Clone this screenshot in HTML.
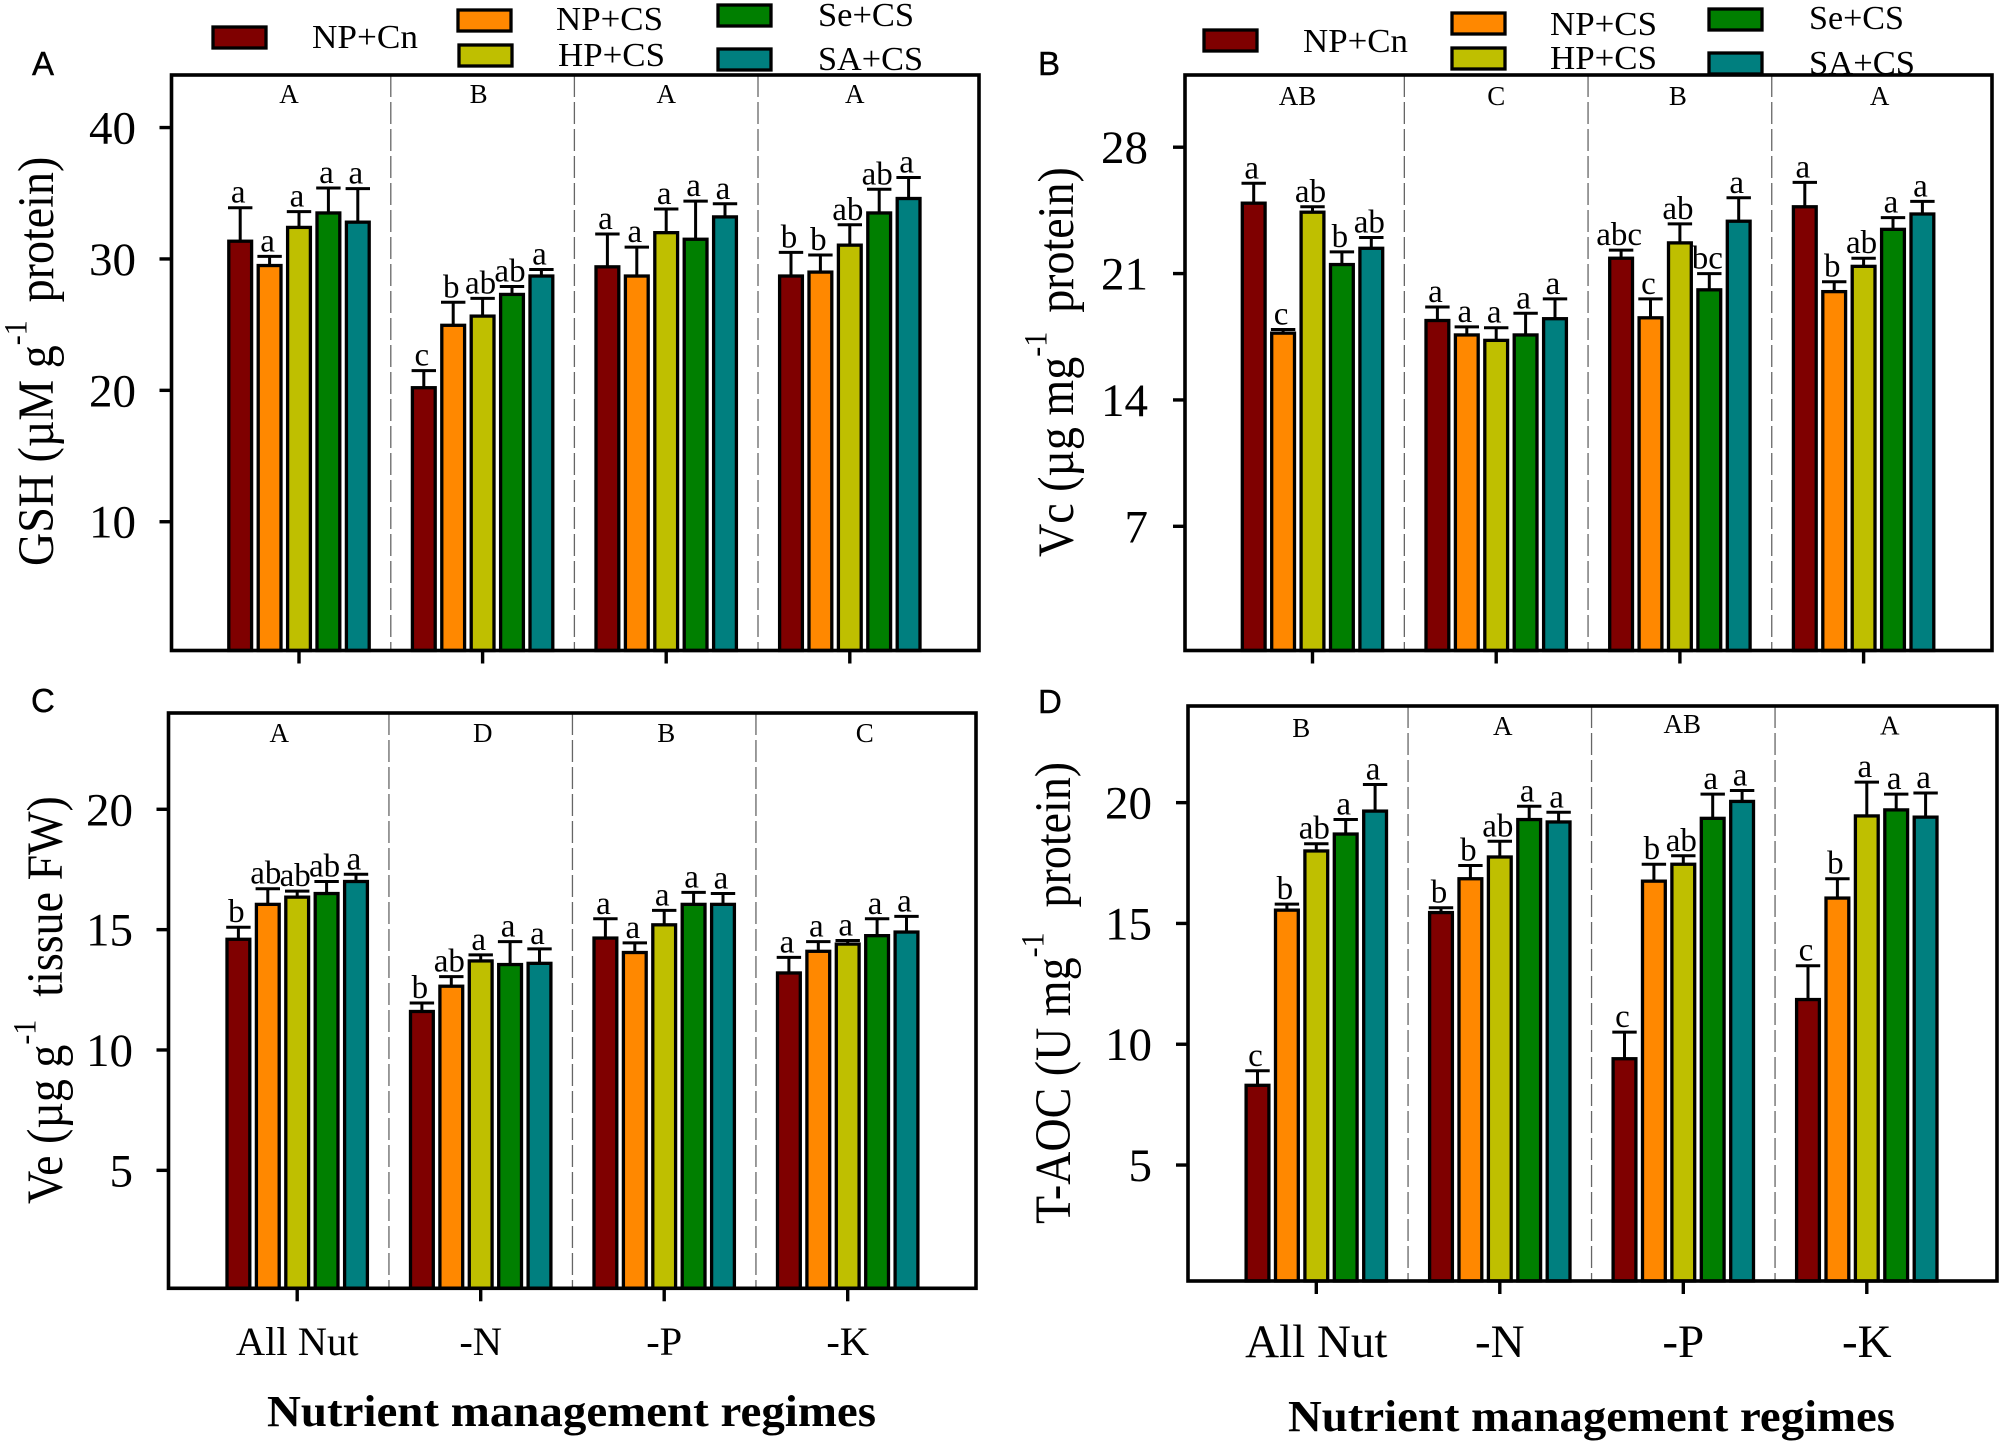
<!DOCTYPE html>
<html lang="en">
<head>
<meta charset="utf-8">
<title>Nutrient management regimes antioxidant bar charts</title>
<style>
html,body{margin:0;padding:0;background:#fff;}
svg{display:block;}
text{font-family:"Liberation Serif",serif;fill:#000;}
.panel-letter{font-family:"Liberation Sans",sans-serif;font-size:33px;stroke:#000;stroke-width:.4;}
.leg{font-size:34px;}
.ytitle{font-size:46px;}
.ytitle tspan.sup{font-size:30px;}
.xtitle{font-size:44px;font-weight:bold;}
</style>
</head>
<body>
<svg id="fig" xmlns="http://www.w3.org/2000/svg" width="2000" height="1445" viewBox="0 0 2000 1445">
  <rect x="0" y="0" width="2000" height="1445" fill="#fff"/>

  <text class="panel-letter" x="32" y="75">A</text>
  <text class="panel-letter" x="1038" y="75">B</text>
  <text class="panel-letter" x="31" y="712">C</text>
  <text class="panel-letter" x="1038" y="713">D</text>

  <g stroke="#000" stroke-width="3.3">
    <rect x="213" y="27" width="53" height="21" fill="#7f0000"/>
    <rect x="458" y="10" width="53" height="21" fill="#ff8800"/>
    <rect x="459" y="45" width="53" height="21" fill="#bfbf00"/>
    <rect x="718" y="5" width="53" height="21" fill="#007f00"/>
    <rect x="718" y="49" width="53" height="21" fill="#007f7f"/>
  </g>
  <g>
    <text class="leg" x="312" y="48" textLength="106" lengthAdjust="spacingAndGlyphs">NP+Cn</text>
    <text class="leg" x="556" y="30" textLength="107" lengthAdjust="spacingAndGlyphs">NP+CS</text>
    <text class="leg" x="558" y="66" textLength="107" lengthAdjust="spacingAndGlyphs">HP+CS</text>
    <text class="leg" x="818" y="26" textLength="96" lengthAdjust="spacingAndGlyphs">Se+CS</text>
    <text class="leg" x="818" y="70" textLength="105" lengthAdjust="spacingAndGlyphs">SA+CS</text>
  </g>

  <g stroke="#000" stroke-width="3.3">
    <rect x="1204" y="30" width="53" height="21" fill="#7f0000"/>
    <rect x="1452" y="13" width="53" height="21" fill="#ff8800"/>
    <rect x="1452" y="48" width="53" height="21" fill="#bfbf00"/>
    <rect x="1709" y="9" width="53" height="21" fill="#007f00"/>
    <rect x="1709" y="53" width="53" height="21" fill="#007f7f"/>
  </g>
  <g>
    <text class="leg" x="1303" y="52" textLength="105" lengthAdjust="spacingAndGlyphs">NP+Cn</text>
    <text class="leg" x="1550" y="35" textLength="107" lengthAdjust="spacingAndGlyphs">NP+CS</text>
    <text class="leg" x="1550" y="69" textLength="107" lengthAdjust="spacingAndGlyphs">HP+CS</text>
    <text class="leg" x="1809" y="29" textLength="95" lengthAdjust="spacingAndGlyphs">Se+CS</text>
    <text class="leg" x="1809" y="74" textLength="106" lengthAdjust="spacingAndGlyphs">SA+CS</text>
  </g>

  <text class="ytitle" transform="translate(53,566) rotate(-90) scale(1,1.1)">GSH (µM g<tspan class="sup" dy="-24">-1</tspan><tspan dy="24" dx="18">protein)</tspan></text>
  <text class="ytitle" transform="translate(1073,557) rotate(-90) scale(1,1.1)">Vc (µg mg<tspan class="sup" dy="-24">-1</tspan><tspan dy="24" dx="19">protein)</tspan></text>
  <text class="ytitle" transform="translate(62,1204) rotate(-90) scale(1,1.1)">Ve (µg g<tspan class="sup" dy="-24">-1</tspan><tspan dy="24" dx="23">tissue FW)</tspan></text>
  <text class="ytitle" transform="translate(1070,1224) rotate(-90) scale(1,1.1)">T-AOC (U mg<tspan class="sup" dy="-24">-1</tspan><tspan dy="24" dx="25">protein)</tspan></text>

  <text class="xtitle" x="267" y="1426" textLength="609" lengthAdjust="spacingAndGlyphs">Nutrient management regimes</text>
  <text class="xtitle" x="1288" y="1431" textLength="607" lengthAdjust="spacingAndGlyphs">Nutrient management regimes</text>
</svg>

<script>
var categories = ["All Nut", "-N", "-P", "-K"];
var seriesNames = ["NP+Cn", "NP+CS", "HP+CS", "Se+CS", "SA+CS"];
var seriesColors = ["#7f0000", "#ff8800", "#bfbf00", "#007f00", "#007f7f"];

var gshTicks = [10, 20, 30, 40];
var gshMeans = [[31.35, 29.5, 32.4, 33.5, 32.8], [20.2, 24.95, 25.65, 27.3, 28.7], [29.4, 28.7, 32, 31.5, 33.2], [28.7, 29, 31.05, 33.5, 34.6]];
var gshUpper = [[33.9, 30.2, 33.6, 35.4, 35.35], [21.5, 26.7, 27, 27.9, 29.2], [31.9, 30.9, 33.8, 34.4, 34.2], [30.5, 30.3, 32.6, 35.3, 36.2]];
var gshLetters = [["a", "a", "a", "a", "a"], ["c", "b", "ab", "ab", "a"], ["a", "a", "a", "a", "a"], ["b", "b", "ab", "ab", "a"]];
var gshGroups = ["A", "B", "A", "A"];

var vcTicks = [7, 14, 21, 28];
var vcMeans = [[24.9, 17.7, 24.4, 21.5, 22.4], [18.4, 17.6, 17.3, 17.6, 18.5], [21.85, 18.55, 22.7, 20.1, 23.9], [24.7, 20, 21.4, 23.45, 24.3]];
var vcUpper = [[26, 17.9, 24.7, 22.2, 23], [19.15, 18.05, 18, 18.8, 19.6], [22.3, 19.6, 23.75, 21, 25.2], [26.05, 20.55, 21.85, 24.1, 25]];
var vcLetters = [["a", "c", "ab", "b", "ab"], ["a", "a", "a", "a", "a"], ["abc", "c", "ab", "bc", "a"], ["a", "b", "ab", "a", "a"]];
var vcGroups = ["AB", "C", "B", "A"];

var veTicks = [5, 10, 15, 20];
var veMeans = [[14.6, 16.05, 16.35, 16.5, 17], [11.6, 12.65, 13.7, 13.55, 13.6], [14.65, 14.05, 15.2, 16.05, 16.05], [13.2, 14.1, 14.4, 14.75, 14.9]];
var veUpper = [[15.1, 16.7, 16.6, 17, 17.3], [11.95, 13.05, 13.95, 14.5, 14.2], [15.45, 14.45, 15.8, 16.55, 16.5], [13.85, 14.5, 14.55, 15.45, 15.55]];
var veLetters = [["b", "ab", "ab", "ab", "a"], ["b", "ab", "a", "a", "a"], ["a", "a", "a", "a", "a"], ["a", "a", "a", "a", "a"]];
var veGroups = ["A", "D", "B", "C"];

var aocTicks = [5, 10, 15, 20];
var aocMeans = [[8.3, 15.55, 18, 18.7, 19.65], [15.45, 16.85, 17.75, 19.3, 19.2], [9.4, 16.75, 17.45, 19.35, 20.05], [11.85, 16.05, 19.45, 19.7, 19.4]];
var aocUpper = [[8.9, 15.8, 18.3, 19.3, 20.75], [15.65, 17.4, 18.4, 19.85, 19.6], [10.5, 17.45, 17.8, 20.35, 20.5], [13.25, 16.85, 20.85, 20.35, 20.4]];
var aocLetters = [["c", "b", "ab", "a", "a"], ["b", "b", "ab", "a", "a"], ["c", "b", "ab", "a", "a"], ["c", "b", "a", "a", "a"]];
var aocGroups = ["B", "A", "AB", "A"];

var panels = [
  {id: "a", means: gshMeans, upper: gshUpper, letters: gshLetters, groups: gshGroups, ticks: gshTicks,
   left: 171.5, right: 979, top: 75, bottom: 650.5, yMin: 0.2, yMax: 44, firstCenter: 299, pitch: 183.6,
   tickFont: 47, tickRight: 136, groupY: 103, groupDx: [-10, -4, 0, 5], groupDy: [0, 0, 0, 0], catFont: 0, catY: 0},
  {id: "b", means: vcMeans, upper: vcUpper, letters: vcLetters, groups: vcGroups, ticks: vcTicks,
   left: 1185, right: 1992, top: 75, bottom: 650.5, yMin: 0.12, yMax: 32, firstCenter: 1312.5, pitch: 183.7,
   tickFont: 47, tickRight: 1148, groupY: 105, groupDx: [-15, 0, -2, 16], groupDy: [0, 0, 0, 0], catFont: 0, catY: 0},
  {id: "c", means: veMeans, upper: veUpper, letters: veLetters, groups: veGroups, ticks: veTicks,
   left: 168.5, right: 976, top: 713, bottom: 1288.3, yMin: 0.1, yMax: 24, firstCenter: 297.2, pitch: 183.5,
   tickFont: 47, tickRight: 133, groupY: 742, groupDx: [-18, 2, 2, 17], groupDy: [0, 0, 0, 0], catFont: 40.5, catY: 1355},
  {id: "d", means: aocMeans, upper: aocUpper, letters: aocLetters, groups: aocGroups, ticks: aocTicks,
   left: 1188, right: 1997, top: 706, bottom: 1281, yMin: 0.2, yMax: 24, firstCenter: 1316.3, pitch: 183.5,
   tickFont: 47, tickRight: 1152, groupY: 736, groupDx: [-15, 3, -1, 23], groupDy: [1, -1, -3, -1.5], catFont: 47, catY: 1357}
];

var SVGNS = "http://www.w3.org/2000/svg";
var fig = document.getElementById("fig");
function mk(tag, attrs, parent) {
  var el = document.createElementNS(SVGNS, tag);
  for (var k in attrs) el.setAttribute(k, attrs[k]);
  parent.appendChild(el);
  return el;
}

panels.forEach(function (p) {
  var pixelPerUnit = (p.bottom - p.top) / (p.yMax - p.yMin);
  function yScale(v) { return p.bottom - (v - p.yMin) * pixelPerUnit; }
  function xScale(groupIndex) { return p.firstCenter + groupIndex * p.pitch; }
  var barPitch = 29.4;
  function barX(groupIndex, seriesIndex) { return xScale(groupIndex) + (seriesIndex - 2) * barPitch; }

  var g = mk("g", {}, fig);
  
  

  p.means.forEach(function (row, gi) {
    if (gi > 0) {
      var sepX = xScale(gi) - p.pitch / 2;
      var sep = mk("line", {x1: sepX, x2: sepX, y1: p.top, y2: p.bottom, stroke: "#666", "stroke-width": 1.3, "stroke-dasharray": "22 5"}, g);
      
      
    }
    row.forEach(function (val, si) {
      var cx = barX(gi, si);
      var top = yScale(val);
      var errTop = yScale(p.upper[gi][si]);
      var err = mk("path", {d: "M" + cx + " " + top + "V" + errTop + "M" + (cx - 12.2) + " " + errTop + "H" + (cx + 12.2), stroke: "#000", "stroke-width": 3, fill: "none"}, g);
      
      
      var bar = mk("rect", {x: cx - 11.4, y: top, width: 22.8, height: p.bottom - top, fill: seriesColors[si], stroke: "#000", "stroke-width": 3.3}, g);
      
      
      var sig = mk("text", {x: cx - 2, y: errTop - 5, "text-anchor": "middle", "font-size": 33}, g);
      sig.textContent = p.letters[gi][si];
      
      
    });
    var gl = mk("text", {x: xScale(gi) + p.groupDx[gi], y: p.groupY + p.groupDy[gi], "text-anchor": "middle", "font-size": 27}, g);
    gl.textContent = p.groups[gi];
    
    

    var xt = mk("line", {x1: xScale(gi), x2: xScale(gi), y1: p.bottom, y2: p.bottom + 13, stroke: "#000", "stroke-width": 3.4}, g);
    
    
    if (p.catFont) {
      var cat = mk("text", {x: xScale(gi), y: p.catY, "text-anchor": "middle", "font-size": p.catFont}, g);
      cat.textContent = categories[gi];
      
      
    }
  });

  p.ticks.forEach(function (t) {
    var y = yScale(t);
    var yt = mk("line", {x1: p.left - 12, x2: p.left, y1: y, y2: y, stroke: "#000", "stroke-width": 3.4}, g);
    
    
    var lab = mk("text", {x: p.tickRight, y: y + 16, "text-anchor": "end", "font-size": p.tickFont}, g);
    lab.textContent = String(t);
    
    
  });

  var frame = mk("rect", {x: p.left, y: p.top, width: p.right - p.left, height: p.bottom - p.top, fill: "none", stroke: "#000", "stroke-width": 3.6}, g);
  
  
});
</script>
</body>
</html>
